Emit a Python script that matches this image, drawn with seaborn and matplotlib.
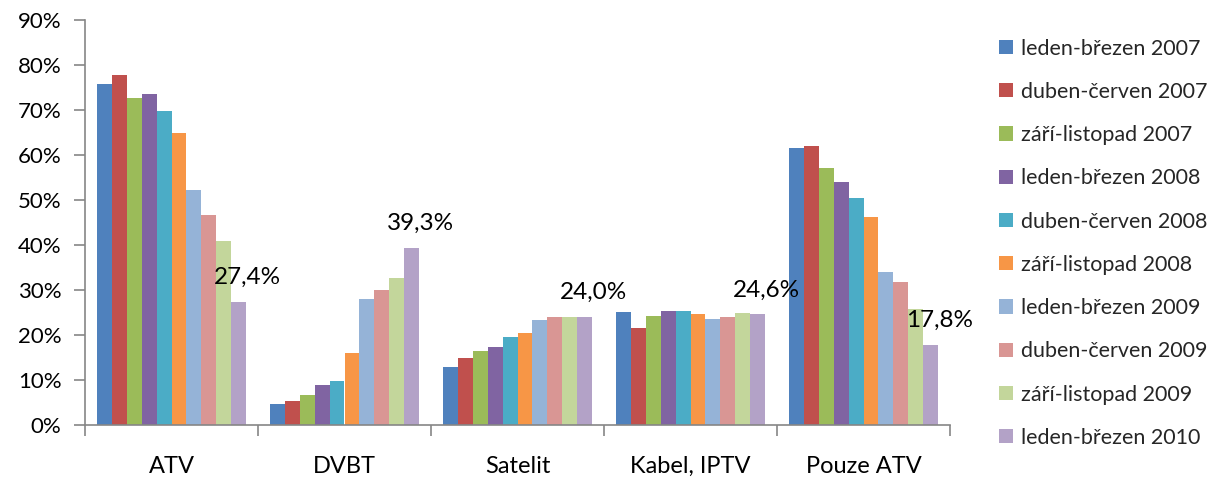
import matplotlib
matplotlib.use("Agg")
import matplotlib.pyplot as plt
import seaborn as sns
import pandas as pd
import numpy as np
from matplotlib.ticker import FixedLocator, FuncFormatter

categories = ["ATV", "DVBT", "Satelit", "Kabel, IPTV", "Pouze ATV"]
periods = ["leden-březen 2007", "duben-červen 2007", "září-listopad 2007",
           "leden-březen 2008", "duben-červen 2008", "září-listopad 2008",
           "leden-březen 2009", "duben-červen 2009", "září-listopad 2009",
           "leden-březen 2010"]
colors = ["#4F81BD", "#C0504D", "#9BBB59", "#8064A2", "#4BACC6", "#F79646",
          "#95B3D7", "#D99694", "#C3D69B", "#B3A2C7"]

atv = [75.8, 77.7, 72.6, 73.5, 69.8, 64.8, 52.2, 46.7, 40.8, 27.4]
dvbt = [4.7, 5.4, 6.7, 9.0, 9.7, 16.0, 27.9, 29.9, 32.6, 39.3]
satelit = [13.0, 14.8, 16.5, 17.3, 19.5, 20.4, 23.4, 23.9, 24.0, 24.0]
kabel = [25.1, 21.6, 24.3, 25.4, 25.4, 24.7, 23.5, 23.9, 25.0, 24.6]
pouze = [61.5, 62.0, 57.2, 54.0, 50.5, 46.3, 34.0, 31.7, 25.8, 17.8]
label_texts = ["27,4%", "39,3%", "24,0%", "24,6%", "17,8%"]

values = [atv, dvbt, satelit, kabel, pouze]
rows = []
for c, vals in zip(categories, values):
    for p, v in zip(periods, vals):
        rows.append({"cat": c, "period": p, "value": v})
df = pd.DataFrame(rows)

sns.set_style("white")
plt.rcParams["font.family"] = ["Lato", "DejaVu Sans"]

fig = plt.figure(figsize=(12.2, 4.83), dpi=100)
ax = fig.add_axes([85 / 1220, 58 / 483, 865 / 1220, 405 / 483])

sns.barplot(data=df, x="cat", y="value", hue="period", order=categories,
            hue_order=periods, palette=colors, width=0.865, ax=ax,
            saturation=1, legend=True, linewidth=0)

ax.set_ylim(0, 90)
ax.set_xlim(-0.5, len(categories) - 0.5)
ax.set_yticks(np.arange(0, 91, 10))
ax.yaxis.set_major_formatter(FuncFormatter(lambda v, _: f"{int(v)}%"))
ax.tick_params(axis="y", left=True, length=8, width=1.2, color="#868686",
               labelsize=16, pad=9, labelcolor="black")

ax.set_xticks(np.arange(len(categories) + 1) - 0.5)
ax.set_xticklabels([])
ax.xaxis.set_minor_locator(FixedLocator(np.arange(len(categories))))
ax.set_xticklabels(categories, minor=True)
ax.tick_params(axis="x", which="major", bottom=True, length=8, width=1.2,
               color="#868686")
ax.tick_params(axis="x", which="minor", bottom=False, length=0, labelsize=17,
               pad=22, labelcolor="black")
ax.set_xlabel("")
ax.set_ylabel("")

for s in ["top", "right"]:
    ax.spines[s].set_visible(False)
for s in ["left", "bottom"]:
    ax.spines[s].set_color("#868686")
    ax.spines[s].set_linewidth(1.2)

# data labels on the last series
last = ax.containers[-1]
for rect, txt in zip(last.patches, label_texts):
    x = rect.get_x() + rect.get_width() / 2
    y = rect.get_height()
    ax.annotate(txt, (x, y), xytext=(6, 10), textcoords="offset points",
                ha="center", va="bottom", fontsize=17.5, color="black")

handles, labels = ax.get_legend_handles_labels()
ax.legend_.remove()
fig.legend(handles, labels, loc="upper left", bbox_to_anchor=(990 / 1220, 453 / 483),
           frameon=False, fontsize=15.5, handlelength=0.65, handleheight=0.65,
           handletextpad=0.4, labelspacing=1.08, borderaxespad=0)

fig.savefig("out.png", dpi=100)
